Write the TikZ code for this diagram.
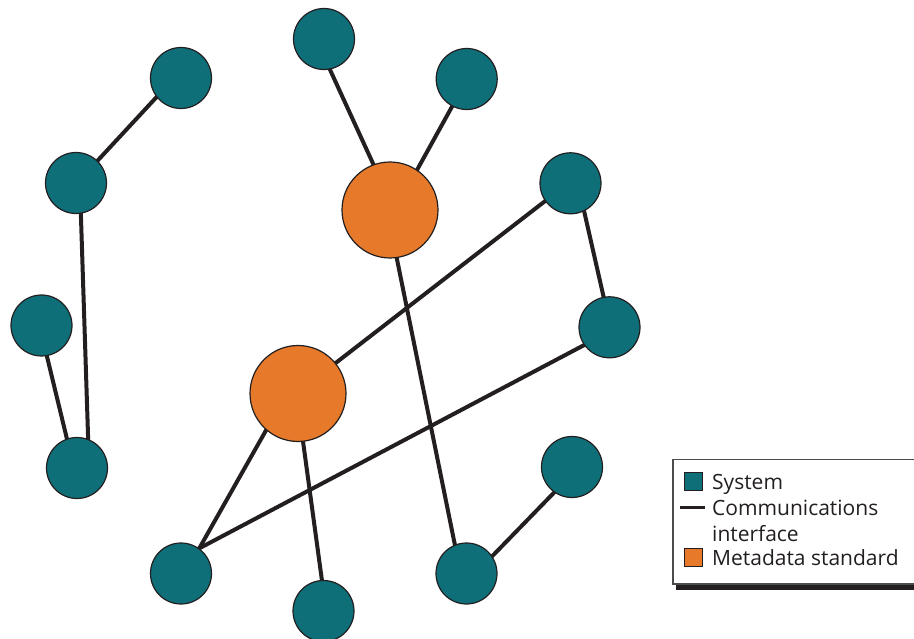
\documentclass[tikz,border=0pt]{standalone}
\usepackage{fontspec}
\setmainfont{Open Sans}
\usetikzlibrary{backgrounds}
\definecolor{sysc}{HTML}{0E6F79}
\definecolor{metac}{HTML}{E6792A}
\definecolor{linec}{HTML}{231F20}
\begin{document}
\begin{tikzpicture}[x=1pt,y=-1pt,
  sys/.style={circle,fill=sysc,draw=linec,line width=1.2pt,minimum size=61pt,inner sep=0pt},
  meta/.style={circle,fill=metac,draw=linec,line width=1.2pt,minimum size=96pt,inner sep=0pt},
  link/.style={draw=linec,line width=4pt,shorten <=-4pt,shorten >=-4pt},
  legtext/.style={anchor=base west,inner sep=0pt,font=\fontsize{21}{25}\selectfont,text=linec}]
\useasboundingbox (0,0) rectangle (914,639);
% systems
\node[sys] (n1) at (181,78) {};
\node[sys] (n2) at (76,183) {};
\node[sys] (n3) at (41.5,325.5) {};
\node[sys] (n4) at (77,468) {};
\node[sys] (n5) at (324,39) {};
\node[sys] (n6) at (466.7,79) {};
\node[sys] (n7) at (570.5,183.3) {};
\node[sys] (n8) at (609.5,327.3) {};
\node[sys] (n9) at (572,467) {};
\node[sys] (n10) at (181,573.5) {};
\node[sys] (n11) at (323.5,611) {};
\node[sys] (n12) at (466.5,573.5) {};
% metadata standards
\node[meta] (o1) at (390,210) {};
\node[meta] (o2) at (298,393.5) {};
% interfaces
\begin{scope}[on background layer]
\draw[link] (n1.218) -- (n2.46);
\draw[link] (n2.279) -- (n4.69);
\draw[link] (n3.280) -- (n4.109);
\draw[link] (n5.281) -- (o1.110);
\draw[link] (n6.242) -- (o1.56);
\draw[link] (o1.278) -- (n12.112);
\draw[link] (n7.215) -- (o2.39.5);
\draw[link] (n7.296) -- (n8.101);
\draw[link] (n8.215) -- (n10.54);
\draw[link] (o2.229) -- (n10.54);
\draw[link] (o2.276) -- (n11.93);
\draw[link] (n9.235) -- (n12.34);
\end{scope}
% legend
\fill[linec] (676,584) rectangle (930,590);
\draw[fill=white,draw=black!70,line width=1.2pt] (673,459.5) rectangle (925,584);
\node[draw=linec,fill=sysc,line width=1pt,minimum size=18pt,inner sep=0pt] (ks) at (693,481) {};
\coordinate (kl1) at (680,507.5);
\coordinate (kl2) at (705,507.5);
\draw[linec,line width=3pt] (kl1) -- (kl2);
\node[draw=linec,fill=metac,line width=1pt,minimum size=18pt,inner sep=0pt] (km) at (693,557) {};
\node[legtext] (t1) at (712,489) {System};
\node[legtext] (t2) at (712,515) {Communications};
\node[legtext] (t3) at (712,541) {interface};
\node[legtext] (t4) at (712,565) {Metadata standard};
\end{tikzpicture}
\end{document}
